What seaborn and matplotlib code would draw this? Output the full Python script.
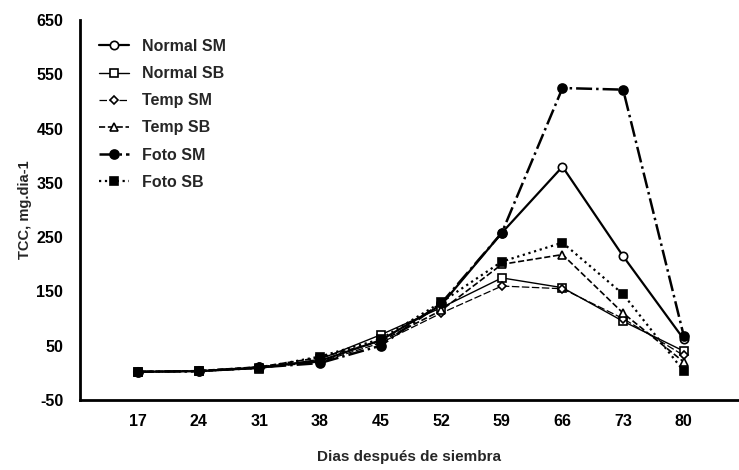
import numpy as np
import pandas as pd
import matplotlib
matplotlib.use("Agg")
import matplotlib.pyplot as plt
import seaborn as sns

dias = [17, 24, 31, 38, 45, 52, 59, 66, 73, 80]
normal_sm = [2, 3, 10, 22, 60, 125, 258, 380, 215, 62]
normal_sb = [2, 3, 8, 25, 70, 120, 175, 157, 95, 40]
temp_sm = [2, 3, 9, 20, 55, 110, 160, 155, 100, 32]
temp_sb = [2, 4, 11, 28, 58, 115, 200, 218, 110, 20]
foto_sm = [2, 3, 10, 18, 50, 128, 258, 525, 522, 68]
foto_sb = [2, 3, 9, 30, 62, 130, 205, 240, 145, 3]

series = [
    ("Normal SM", normal_sm, dict(marker="o", mfc="white", ls="-", lw=1.6, ms=6)),
    ("Normal SB", normal_sb, dict(marker="s", mfc="white", ls="-", lw=1.0, ms=6)),
    ("Temp SM", temp_sm, dict(marker="D", mfc="white", ls=(0, (6, 2)), lw=0.9, ms=4.5)),
    ("Temp SB", temp_sb, dict(marker="^", mfc="white", ls="--", lw=1.2, ms=6)),
    ("Foto SM", foto_sm, dict(marker="o", mfc="black", ls="-.", lw=1.8, ms=6.5)),
    ("Foto SB", foto_sb, dict(marker="s", mfc="black", ls=":", lw=1.6, ms=6)),
]

sns.set_theme(style="white")
plt.rcParams['font.family'] = ['Liberation Sans', 'DejaVu Sans']
plt.rcParams['axes.unicode_minus'] = False

fig = plt.figure(figsize=(7.39, 4.70), dpi=100)
ax = fig.add_axes([0.108, 0.149, 0.89, 0.808])

for name, vals, st in series:
    df = pd.DataFrame({"x": dias, "y": vals})
    sns.lineplot(data=df, x="x", y="y", ax=ax, color="black",
                 marker=st["marker"], markerfacecolor=st["mfc"],
                 markeredgecolor="black", markeredgewidth=1.2,
                 markersize=st["ms"], linestyle=st["ls"], linewidth=st["lw"],
                 label=name)

ax.set_xlim(10.3, 86.2)
ax.set_ylim(-50, 650)
ax.set_xticks(dias)
ax.set_yticks(np.arange(-50, 651, 100))
ax.tick_params(axis="both", direction="in", length=3, width=1, colors="black",
               labelsize=11.5)
ax.tick_params(axis="x", pad=10)
ax.tick_params(axis="y", pad=12)
for lab in ax.get_xticklabels() + ax.get_yticklabels():
    lab.set_fontweight("bold")
for s in ["top", "right"]:
    ax.spines[s].set_visible(False)
for s in ["left", "bottom"]:
    ax.spines[s].set_color("black")
    ax.spines[s].set_linewidth(2)

ax.set_xlabel("Dias después de siembra", fontsize=11, fontweight="bold", labelpad=15)
ax.set_ylabel("TCC, mg.dia-1", fontsize=10.5, fontweight="bold", labelpad=3)

leg = ax.legend(loc="upper left", bbox_to_anchor=(0.012, 0.98), frameon=False,
                prop={"size": 11.5, "weight": "bold"}, handlelength=1.9,
                labelspacing=0.76, borderaxespad=0.3, handletextpad=0.8)

fig.savefig("out.png", dpi=100)
